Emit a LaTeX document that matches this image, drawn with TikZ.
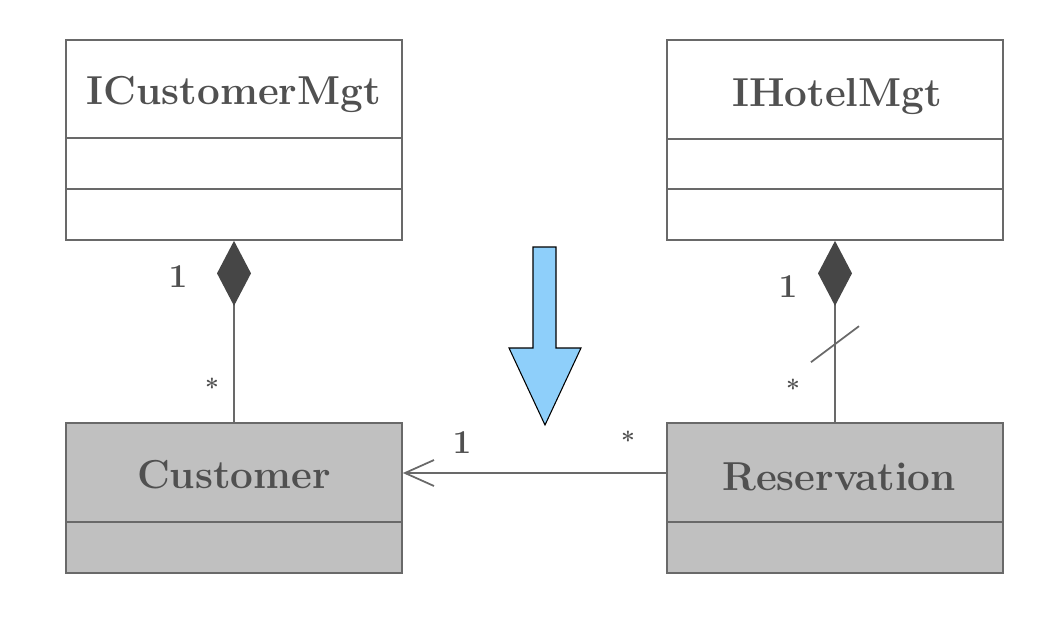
\documentclass[tikz,border=0pt]{standalone}
\usetikzlibrary{arrows.meta}
\definecolor{linegray}{RGB}{105,105,105}
\definecolor{boxgray}{RGB}{192,192,192}
\definecolor{textgray}{RGB}{80,80,80}
\definecolor{diagray}{RGB}{70,70,70}
\definecolor{hintblue}{RGB}{142,207,250}
\begin{document}
\begin{tikzpicture}[x=0.02cm, y=-0.02cm,
    iface/.style={draw=linegray, line width=1pt, fill=white, minimum width=6.72cm, minimum height=4cm, inner sep=0pt},
    entity/.style={draw=linegray, line width=1pt, fill=boxgray, minimum width=6.72cm, minimum height=3cm, inner sep=0pt},
    cname/.style={font=\fontsize{23}{27}\selectfont\bfseries, text=textgray, anchor=base, inner sep=0pt},
    mult/.style={font=\fontsize{19}{22}\selectfont\bfseries, text=textgray},
    star/.style={font=\fontsize{14}{16}\selectfont\bfseries, text=textgray},
    link/.style={draw=linegray, line width=1pt},
    whole/.style={{Diamond[length=1.3cm, width=0.68cm, fill=diagray, color=diagray]}-}]
        \useasboundingbox (0,0) rectangle (1050,628);

        % interfaces
        \node[iface] (icm) at (234,140) {};
        \node[iface] (ihm) at (835,140) {};
        \draw[link] ([yshift=-1.98cm]icm.north west) -- ([yshift=-1.98cm]icm.north east);
        \draw[link] ([yshift=-3cm]icm.north west) -- ([yshift=-3cm]icm.north east);
        \draw[link] ([yshift=-2cm]ihm.north west) -- ([yshift=-2cm]ihm.north east);
        \draw[link] ([yshift=-3cm]ihm.north west) -- ([yshift=-3cm]ihm.north east);
        \node[cname] (icmname) at (234,105) {ICustomerMgt};
        \node[cname] (ihmname) at (837,107) {IHotelMgt};

        % entities
        \node[entity] (cust) at (234,498) {};
        \node[entity] (res) at (835,498) {};
        \draw[link] ([yshift=-2cm]cust.north west) -- ([yshift=-2cm]cust.north east);
        \draw[link] ([yshift=-2cm]res.north west) -- ([yshift=-2cm]res.north east);
        \node[cname] (custname) at (234,488) {Customer};
        \node[cname] (resname) at (839,490) {Reservation};

        % associations
        \draw[link, whole] (icm.south) -- (cust.north);
        \draw[link, whole] (ihm.south) -- coordinate[pos=0.57] (cut) (res.north);
        \draw[link] ([shift={(-24,18)}]cut) -- ([shift={(24,-18)}]cut);
        \draw[link, -{Straight Barb[length=0.58cm, width=0.52cm]}] ([yshift=0.5cm]res.west) -- ([yshift=0.5cm]cust.east);

        \node[mult] (m1) at (178,277) {1};
        \node[star] (m2) at (212,387) {*};
        \node[mult] (m3) at (788,287) {1};
        \node[star] (m4) at (793,388) {*};
        \node[mult] (m5) at (462,443) {1};
        \node[star] (m6) at (628,440) {*};

        % hint arrow
        \draw[fill=hintblue, line width=0.6pt] (533,247) -- (556,247) -- (556,348) -- (581,348) -- (545,425) -- (509,348) -- (533,348) -- cycle;

    \end{tikzpicture}
\end{document}
